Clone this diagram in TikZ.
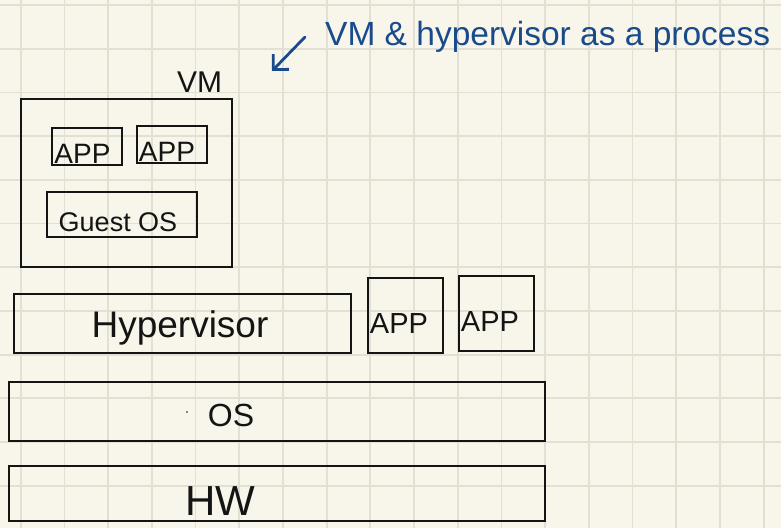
\documentclass[tikz,border=0pt]{standalone}
\usepackage{fontspec}
\setmainfont{Liberation Sans}
\usetikzlibrary{arrows.meta}
\definecolor{paper}{RGB}{248,246,234}
\definecolor{gridline}{RGB}{226,224,210}
\definecolor{ink}{RGB}{20,20,20}
\definecolor{pen}{RGB}{24,74,140}
\tikzset{
  box/.style={draw=ink, line width=2pt, inner sep=0pt, outer sep=0pt},
  hand/.style={text=ink, inner sep=0pt, anchor=base},
  note/.style={text=pen, inner sep=0pt, anchor=base west},
}
\begin{document}
\begin{tikzpicture}[x=1pt,y=-1pt]
  % paper and squared grid
  \fill[paper] (0,0) rectangle (781,528);
  \useasboundingbox (0,0) rectangle (781,528);
  \foreach \k in {0,...,17}
    \draw[gridline, line width=1.8pt] ({20.7+43.7*\k},0) -- ({20.7+43.7*\k},528);
  \foreach \k in {0,...,11}
    \draw[gridline, line width=1.8pt] (0,{5+43.7*\k}) -- (781,{5+43.7*\k});

  % virtual machine
  \node[box, minimum width=211pt, minimum height=168pt] (vm) at (126.5,183) {};
  \node[hand, font=\fontsize{30}{30}\selectfont] (vmlabel) at (199.5,92) {VM};
  \node[box, minimum width=70pt, minimum height=37pt] (app1) at (87,146.5) {};
  \node[hand, font=\fontsize{28}{28}\selectfont] (app1t) at (82.5,163) {APP};
  \node[box, minimum width=70pt, minimum height=37pt] (app2) at (172,144.5) {};
  \node[hand, font=\fontsize{28}{28}\selectfont] (app2t) at (167,161.5) {APP};
  \node[box, minimum width=150pt, minimum height=45pt] (guest) at (122,214.5) {};
  \node[hand, font=\fontsize{27}{27}\selectfont] (guestt) at (118,231.5) {Guest OS};

  % hypervisor and host processes
  \node[box, minimum width=337pt, minimum height=59pt] (hyp) at (182.5,323.5) {};
  \node[hand, font=\fontsize{37}{37}\selectfont] (hypt) at (180,337) {Hypervisor};
  \node[box, minimum width=75pt, minimum height=75pt] (app3) at (405.5,315.5) {};
  \node[hand, font=\fontsize{29}{29}\selectfont] (app3t) at (399,333) {APP};
  \node[box, minimum width=75pt, minimum height=75pt] (app4) at (496.5,313.5) {};
  \node[hand, font=\fontsize{29}{29}\selectfont] (app4t) at (490,331.5) {APP};

  % host OS and hardware
  \node[box, minimum width=536pt, minimum height=59pt] (os) at (277,411.5) {};
  \node[hand, font=\fontsize{32}{32}\selectfont] (ost) at (231,426) {OS};
  \fill[ink] (187,412) circle (0.9pt);
  \node[box, minimum width=536pt, minimum height=55pt] (hw) at (277,493.5) {};
  \node[hand, font=\fontsize{42}{42}\selectfont] (hwt) at (220,515) {HW};

  % annotation
  \node[note, font=\fontsize{33.5}{33.5}\selectfont] (notet) at (325,45) {VM \& hypervisor as a process};
  \coordinate (arrfrom) at (305,37);
  \coordinate (arrto) at (272,71);
  \draw[pen, line width=2.8pt, line cap=round, -{Straight Barb[length=11pt,width=22pt,line width=2.8pt]}] (arrfrom) -- (arrto);
\end{tikzpicture}
\end{document}
